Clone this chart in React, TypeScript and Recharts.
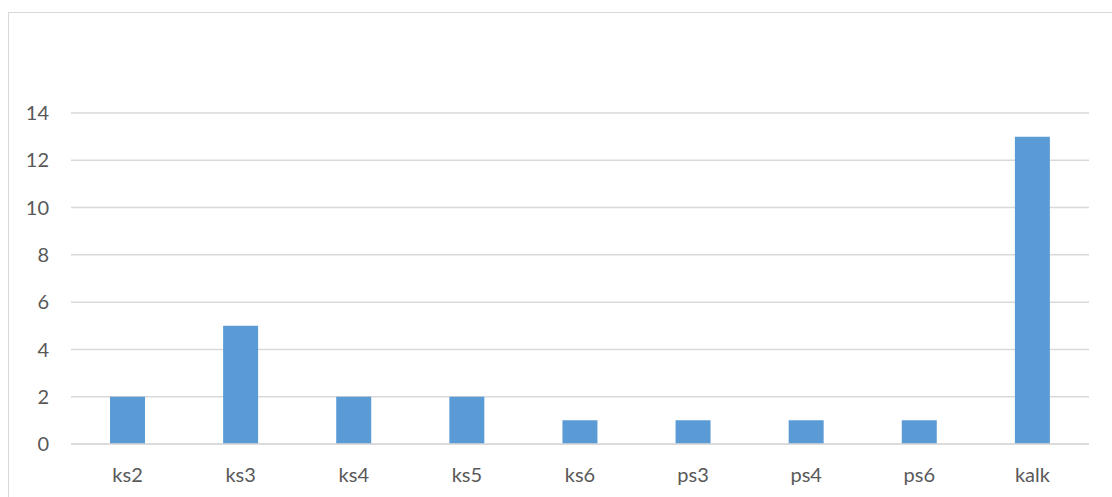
import React from "react";
import { BarChart, Bar, XAxis, YAxis, CartesianGrid } from "recharts";

const categories = ["ks2", "ks3", "ks4", "ks5", "ks6", "ps3", "ps4", "ps6", "kalk"];
const counts = [2, 5, 2, 2, 1, 1, 1, 1, 13];
const yTicks = [0, 2, 4, 6, 8, 10, 12, 14];

const data = categories.map((name, i) => ({ name, count: counts[i] }));

const axisText = { fill: "#595959", fontSize: 20, fontFamily: "Lato, 'Open Sans', sans-serif" };

export default function App() {
  return (
    <div
      style={{
        position: "fixed",
        left: 0,
        top: 0,
        width: 1112,
        height: 497,
        overflow: "hidden",
        background: "#fff",
      }}
    >
      <div
        style={{
          position: "absolute",
          left: 8,
          top: 12,
          width: 1130,
          height: 520,
          border: "1.5px solid #d9d9d9",
          boxSizing: "border-box",
        }}
      />
      <div style={{ position: "absolute", left: 0, top: 0 }}>
        <BarChart
          width={1112}
          height={497}
          data={data}
          margin={{ top: 113, right: 23, bottom: 23, left: 0 }}
        >
          <CartesianGrid vertical={false} stroke="#d9d9d9" strokeWidth={1.5} />
          <XAxis
            dataKey="name"
            height={30}
            axisLine={{ stroke: "#d9d9d9", strokeWidth: 1.5 }}
            tickLine={false}
            tickSize={0}
            tickMargin={24}
            tick={axisText}
          />
          <YAxis
            width={71}
            domain={[0, 14]}
            ticks={yTicks}
            axisLine={false}
            tickLine={false}
            tickSize={0}
            tickMargin={22}
            tick={axisText}
          />
          <Bar dataKey="count" fill="#5b9bd5" barSize={35} isAnimationActive={false} />
        </BarChart>
      </div>
    </div>
  );
}
